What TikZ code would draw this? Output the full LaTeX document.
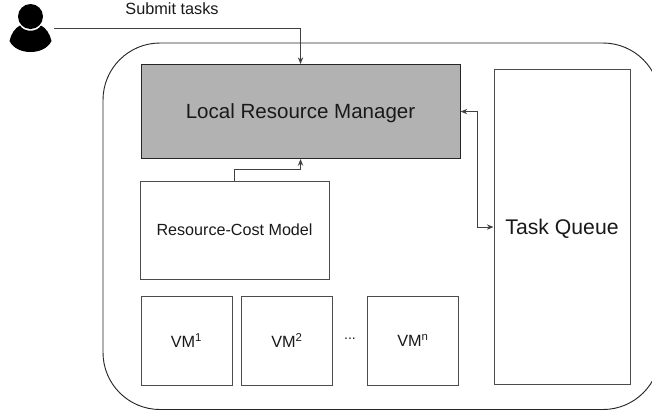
\documentclass[tikz,border=0pt]{standalone}
\usepackage{fontspec}
\setmainfont{Liberation Sans}
\usetikzlibrary{positioning,arrows.meta}

\tikzset{
  box/.style={draw=black!70,rectangle,anchor=north west,inner sep=0pt,text=black!90,text depth=0pt,line width=0.8pt},
  vmbox/.style={box,minimum width=68.25pt,minimum height=66.75pt,font=\fontsize{12.2}{14}\selectfont},
  link/.style={draw=black!75,-{Stealth[length=5pt,width=4pt]},line width=0.7pt}
}

\begin{document}
\begin{tikzpicture}[x=0.75pt,y=-0.75pt]
  \useasboundingbox (0,0) rectangle (652,412);
  \draw[black!85,line width=0.7pt,rounded corners=42.75pt] (103,43) rectangle (660,409.5);
  \node[box,draw=black!85,fill=black!30,minimum width=239.25pt,minimum height=70.5pt,font=\fontsize{15.4}{18}\selectfont] (manager) at (140.5,64) {Local Resource Manager};
  \node[box,minimum width=141.75pt,minimum height=73.5pt,font=\fontsize{12.1}{14}\selectfont] (model) at (139.5,180.5) {Resource-Cost Model};
  \node[box,minimum width=102pt,minimum height=236.25pt,font=\fontsize{15.9}{18}\selectfont] (queue) at (493.5,69) {Task Queue};
  \node[vmbox] (vm1) at (140.5,295.5) {VM\textsuperscript{1}};
  \node[vmbox] (vm2) at (241,295.5) {VM\textsuperscript{2}};
  \node[vmbox] (vmn) at (367,295.5) {VM\textsuperscript{n}};
  \node[text=black!90,font=\fontsize{10.5}{12}\selectfont] (dots) at (350,339) {...};
  \node[text=black!90,font=\fontsize{12.2}{14}\selectfont] (submit) at (172,9) {Submit tasks};
  % user icon
  \fill[black] (30.5,16.5) circle[radius=12.5];
  \fill[black] (9.5,41) .. controls (11,34) and (15,28) .. (20,25.5) .. controls (24,32.5) and (37,32.5) .. (41,25.5) .. controls (46,28) and (50,34) .. (51.5,41) .. controls (48,48) and (40,52) .. (30.5,52) .. controls (21,52) and (13,48) .. (9.5,41) -- cycle;
  \coordinate (user) at (54,28);
  \draw[link] (user) -| (manager.north);
  \draw[link] (model.north) -- ++(0,-11) -| (manager.south);
  \draw[link,{Stealth[length=5pt,width=4pt]}-{Stealth[length=5pt,width=4pt]}] (manager.east) -- ++(17,0) |- (queue.west);
\end{tikzpicture}
\end{document}
